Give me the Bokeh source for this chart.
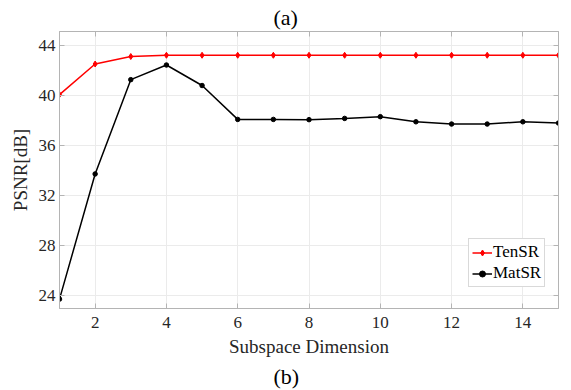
from bokeh.plotting import figure
from bokeh.models import Range1d, LinearAxis, FixedTicker, Legend, LegendItem, Title, CustomJSTickFormatter
from bokeh.embed import file_html
from bokeh.resources import INLINE

dims = [1, 2, 3, 4, 5, 6, 7, 8, 9, 10, 11, 12, 13, 14, 15]
tensr = [40.1, 42.55, 43.15, 43.25, 43.25, 43.25, 43.25, 43.25, 43.25, 43.25, 43.25, 43.25, 43.25, 43.25, 43.25]
matsr = [23.75, 33.76, 41.3, 42.47, 40.83, 38.12, 38.12, 38.1, 38.2, 38.34, 37.93, 37.75, 37.75, 37.93, 37.83]
xticks = [2, 4, 6, 8, 10, 12, 14]
yticks = [24, 28, 32, 36, 40, 44]

FONT = "Liberation Serif"
TXT = "#262626"
FRAME = "#b4b4b4"

p = figure(width=571, height=390, output_backend="svg", toolbar_location=None,
           x_range=Range1d(1, 15), y_range=Range1d(23.0, 45.15),
           min_border_left=59, min_border_right=13, min_border_top=31, min_border_bottom=82)

p.title.text = "(a)"
p.title.align = "left"
p.title.text_font = FONT
p.title.text_font_size = "22px"
p.title.text_font_style = "normal"
p.title.text_color = "black"
p.title.offset = 214
p.title.standoff = 3

p.outline_line_color = FRAME
p.outline_line_width = 1

for ax in (p.xaxis[0], p.yaxis[0]):
    ax.axis_line_color = FRAME
    ax.major_tick_line_color = FRAME
    ax.minor_tick_line_color = None
    ax.major_tick_in = 5
    ax.major_tick_out = 0
    ax.major_label_text_font = FONT
    ax.major_label_text_font_size = "17px"
    ax.major_label_text_color = TXT
    ax.axis_label_text_font = FONT
    ax.axis_label_text_font_size = "19px"
    ax.axis_label_text_font_style = "normal"
    ax.axis_label_text_color = TXT

p.xaxis.ticker = FixedTicker(ticks=xticks)
p.yaxis.ticker = FixedTicker(ticks=yticks)
p.xaxis.axis_label = "Subspace Dimension"
p.yaxis.axis_label = "PSNR[dB]"
p.xaxis.major_label_standoff = 8
p.yaxis.major_label_standoff = 4
p.xaxis.axis_label_standoff = 5
p.yaxis.axis_label_standoff = 5

# mirrored ticks on top and right (no labels)
for loc, tick in (("above", xticks), ("right", yticks)):
    a = LinearAxis(ticker=FixedTicker(ticks=tick),
                   formatter=CustomJSTickFormatter(code="return ''"))
    a.axis_line_color = FRAME
    a.major_tick_line_color = FRAME
    a.minor_tick_line_color = None
    a.major_tick_in = 5
    a.major_tick_out = 0
    a.major_label_standoff = 0
    p.add_layout(a, loc)

p.xgrid.ticker = FixedTicker(ticks=xticks)
p.ygrid.ticker = FixedTicker(ticks=yticks)
p.grid.grid_line_color = "#ebebeb"
p.grid.grid_line_width = 1

r1 = p.line(dims, tensr, line_color="#ff0000", line_width=1.5)
m1 = p.scatter(dims, tensr, marker="diamond", size=6, fill_color="#ff0000", line_color="#ff0000")
r2 = p.line(dims, matsr, line_color="black", line_width=1.5)
m2 = p.scatter(dims, matsr, marker="circle", size=4.5, fill_color="black", line_color="black")

legend = Legend(items=[LegendItem(label="TenSR", renderers=[r1, m1]),
                       LegendItem(label="MatSR", renderers=[r2, m2])],
                location=(409, 21))
legend.label_text_font = FONT
legend.label_text_font_size = "17px"
legend.label_text_color = "black"
legend.glyph_width = 20
legend.glyph_height = 15
legend.label_height = 15
legend.spacing = 1
legend.padding = 3
legend.margin = 0
legend.label_standoff = 1
legend.border_line_color = "#b4b4b4"
legend.background_fill_alpha = 1
p.add_layout(legend)

bt = Title(text="(b)", align="left", text_font=FONT, text_font_size="22px",
           text_font_style="normal", text_color="black", offset=214, standoff=4)
p.add_layout(bt, "below")

open("out.html", "w").write(file_html(p, INLINE))
